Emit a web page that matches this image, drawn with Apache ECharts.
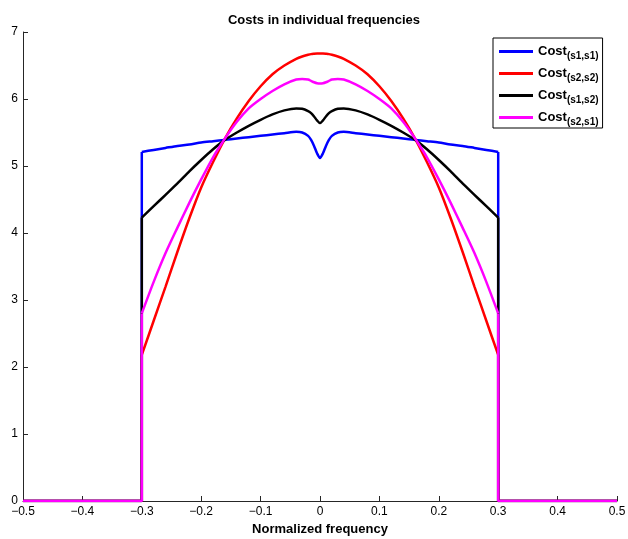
<!DOCTYPE html>
<html>
<head>
<meta charset="utf-8">
<script src="https://cdn.jsdelivr.net/npm/echarts@6/dist/echarts.min.js"></script>
<style>html,body{margin:0;padding:0;background:#fff}#c{width:628px;height:539px}</style>
</head>
<body>
<div id="c"></div>
<script>
// Normalized frequency samples (the repeated ±0.3 are the vertical jumps)
var freq = [-0.5, -0.3, -0.3, -0.28, -0.26, -0.24, -0.22, -0.20, -0.18, -0.16, -0.14, -0.12, -0.10, -0.08, -0.06, -0.04, -0.03, -0.02, -0.015, -0.01, -0.005,
  0,
  0.005, 0.01, 0.015, 0.02, 0.03, 0.04, 0.06, 0.08, 0.10, 0.12, 0.14, 0.16, 0.18, 0.20, 0.22, 0.24, 0.26, 0.28, 0.3, 0.3, 0.5];

var costS1S1 = [0, 0, 5.21, 5.24, 5.27, 5.30, 5.32, 5.35, 5.37, 5.39, 5.41, 5.43, 5.45, 5.47, 5.49, 5.51, 5.50, 5.45, 5.39, 5.30, 5.19,
  5.12,
  5.19, 5.30, 5.39, 5.45, 5.50, 5.51, 5.49, 5.47, 5.45, 5.43, 5.41, 5.39, 5.37, 5.35, 5.32, 5.30, 5.27, 5.24, 5.21, 0, 0];

var costS2S2 = [0, 0, 2.18, 2.69, 3.20, 3.72, 4.22, 4.68, 5.06, 5.41, 5.71, 5.97, 6.19, 6.37, 6.50, 6.60, 6.635, 6.66, 6.67, 6.675, 6.679,
  6.68,
  6.679, 6.675, 6.67, 6.66, 6.635, 6.60, 6.50, 6.37, 6.19, 5.97, 5.71, 5.41, 5.06, 4.68, 4.22, 3.72, 3.20, 2.69, 2.18, 0, 0];

var costS1S2 = [0, 0, 4.23, 4.40, 4.57, 4.74, 4.92, 5.09, 5.25, 5.39, 5.50, 5.60, 5.69, 5.77, 5.83, 5.86, 5.855, 5.82, 5.79, 5.74, 5.68,
  5.64,
  5.68, 5.74, 5.79, 5.82, 5.855, 5.86, 5.83, 5.77, 5.69, 5.60, 5.50, 5.39, 5.25, 5.09, 4.92, 4.74, 4.57, 4.40, 4.23, 0, 0];

var costS2S1 = [0, 0, 2.80, 3.27, 3.70, 4.08, 4.45, 4.80, 5.13, 5.41, 5.66, 5.86, 6.00, 6.12, 6.22, 6.29, 6.30, 6.29, 6.27, 6.25, 6.235,
  6.23,
  6.235, 6.25, 6.27, 6.29, 6.30, 6.29, 6.22, 6.12, 6.00, 5.86, 5.66, 5.41, 5.13, 4.80, 4.45, 4.08, 3.70, 3.27, 2.80, 0, 0];

var seriesNames = ['Cost(s1,s1)', 'Cost(s2,s2)', 'Cost(s1,s2)', 'Cost(s2,s1)'];
var seriesColors = ['#0000ff', '#ff0000', '#000000', '#ff00ff'];
var seriesValues = [costS1S1, costS2S2, costS1S2, costS2S1];

var xTicks = { min: -0.5, max: 0.5, interval: 0.1 };
var yTicks = { min: 0, max: 7, interval: 1 };

var FONT = 'Liberation Sans, Arial, Helvetica, sans-serif';

function pairs(vals, from, to) {
  var out = [];
  for (var i = from; i <= to; i++) out.push([freq[i], vals[i]]);
  return out;
}
function fmt(v) {
  var r = Math.round(v * 10) / 10;
  if (r === 0) return '0';
  return (r < 0 ? '\u2212' : '') + String(Math.abs(r));
}

var N = freq.length;
var series = [];
seriesNames.forEach(function (n, i) {
  var ls = { color: seriesColors[i], width: 2.5 };
  // smooth in-band curve
  series.push({
    name: n, type: 'line', data: pairs(seriesValues[i], 2, N - 3),
    showSymbol: false, symbol: 'none', smooth: 0.25,
    lineStyle: ls, itemStyle: { color: seriesColors[i] }, z: 2 + i
  });
  // out-of-band zeros and vertical jumps
  series.push({
    name: n, type: 'line', data: pairs(seriesValues[i], 0, 2),
    showSymbol: false, symbol: 'none', smooth: false,
    lineStyle: ls, itemStyle: { color: seriesColors[i] }, z: 2 + i
  });
  series.push({
    name: n, type: 'line', data: pairs(seriesValues[i], N - 3, N - 1),
    showSymbol: false, symbol: 'none', smooth: false,
    lineStyle: ls, itemStyle: { color: seriesColors[i] }, z: 2 + i
  });
});

var chart = echarts.init(document.getElementById('c'), null, { renderer: 'canvas' });
chart.setOption({
  backgroundColor: '#fff',
  animation: false,
  title: {
    text: 'Costs in individual frequencies',
    left: 319, top: 9, textAlign: 'center',
    textStyle: { fontFamily: FONT, fontSize: 13, fontWeight: 'bold', color: '#000' }
  },
  grid: { left: 23, right: 11, top: 32, bottom: 38, containLabel: false, outerBoundsMode: 'none' },
  legend: {
    orient: 'vertical',
    left: 493, top: 38,
    padding: [4, 4, 1, 6],
    borderColor: '#000', borderWidth: 1,
    backgroundColor: '#fff',
    icon: 'rect', itemWidth: 34, itemHeight: 3, itemGap: 3,
    data: seriesNames,
    formatter: function (name) {
      return '{c|Cost}{s|' + name.slice(4) + '}';
    },
    textStyle: {
      color: '#000',
      rich: {
        c: { fontFamily: FONT, fontSize: 13, fontWeight: 'bold', color: '#000', lineHeight: 19 },
        s: { fontFamily: FONT, fontSize: 10, fontWeight: 'bold', color: '#000', padding: [9, 0, 0, 0], lineHeight: 19 }
      }
    }
  },
  xAxis: {
    type: 'value', min: xTicks.min, max: xTicks.max, interval: xTicks.interval,
    name: 'Normalized frequency', nameLocation: 'middle', nameGap: 22,
    nameTextStyle: { fontFamily: FONT, fontSize: 13, fontWeight: 'bold', color: '#000' },
    axisLine: { show: true, onZero: false, lineStyle: { color: '#262626', width: 1 } },
    axisTick: { show: true, inside: true, length: 5, lineStyle: { color: '#262626' } },
    axisLabel: { fontFamily: FONT, fontSize: 12, color: '#000', margin: 5, formatter: fmt },
    splitLine: { show: false }
  },
  yAxis: {
    type: 'value', min: yTicks.min, max: yTicks.max, interval: yTicks.interval,
    axisLine: { show: true, onZero: false, lineStyle: { color: '#262626', width: 1 } },
    axisTick: { show: true, inside: true, length: 5, lineStyle: { color: '#262626' } },
    axisLabel: { fontFamily: FONT, fontSize: 12, color: '#000', margin: 5 },
    splitLine: { show: false }
  },
  series: series
});
</script>
</body>
</html>
